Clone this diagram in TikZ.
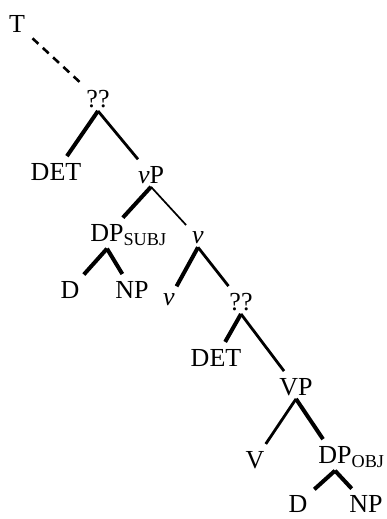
\documentclass[tikz,border=0pt]{standalone}
\usepackage{fontspec}
\setmainfont{Liberation Serif}
\tikzset{
  cat/.style={inner sep=3pt, font=\fontsize{26}{30}\selectfont},
  heavy/.style={line width=4pt, shorten >=5pt},
  medium/.style={line width=2.8pt, shorten >=5pt},
  light/.style={line width=1.7pt, shorten >=5pt},
}
\begin{document}
\begin{tikzpicture}[x=1pt,y=-1pt]
  \useasboundingbox (0,0) rectangle (386,519);
  \node[cat] (T)    at (17,24)   {T};
  \node[cat] (Q1)   at (98,99)   {??};
  \node[cat] (DET1) at (56,172)  {DET};
  \node[cat] (vP)   at (151,175) {\textit{v}P};
  \node[cat] (DPs)  at (107,235) {DP\rlap{\textsubscript{SUBJ}}};
  \node[cat] (v1)   at (198,238) {\textit{v}};
  \node[cat] (D1)   at (70,290)  {D};
  \node[cat] (NP1)  at (132,290) {NP};
  \node[cat] (v2)   at (169,300) {\textit{v}};
  \node[cat] (Q2)   at (241,302) {??};
  \node[cat] (DET2) at (216,358) {DET};
  \node[cat] (VP)   at (296,387) {VP};
  \node[cat] (V)    at (255,460) {V};
  \node[cat] (DPo)  at (335,457) {DP\rlap{\textsubscript{OBJ}}};
  \node[cat] (D2)   at (298,504) {D};
  \node[cat] (NP2)  at (366,504) {NP};
  \draw[line width=2.6pt, dash pattern=on 8pt off 6pt,
        shorten <=6pt, shorten >=3pt] (T) -- (Q1);
  \draw[heavy]  (Q1.south) -- (DET1);
  \draw[medium] (Q1.south) -- (vP);
  \draw[heavy]  (vP.south) -- (DPs);
  \draw[light]  (vP.south) -- (v1);
  \draw[heavy]  (DPs.south) -- (D1);
  \draw[heavy]  (DPs.south) -- (NP1);
  \draw[heavy]  (v1.south) -- (v2);
  \draw[medium] (v1.south) -- (Q2);
  \draw[heavy]  (Q2.south) -- (DET2);
  \draw[medium] (Q2.south) -- (VP);
  \draw[medium] (VP.south) -- (V);
  \draw[heavy]  (VP.south) -- (DPo);
  \draw[heavy]  (DPo.south) -- (D2);
  \draw[heavy]  (DPo.south) -- (NP2);
\end{tikzpicture}
\end{document}
